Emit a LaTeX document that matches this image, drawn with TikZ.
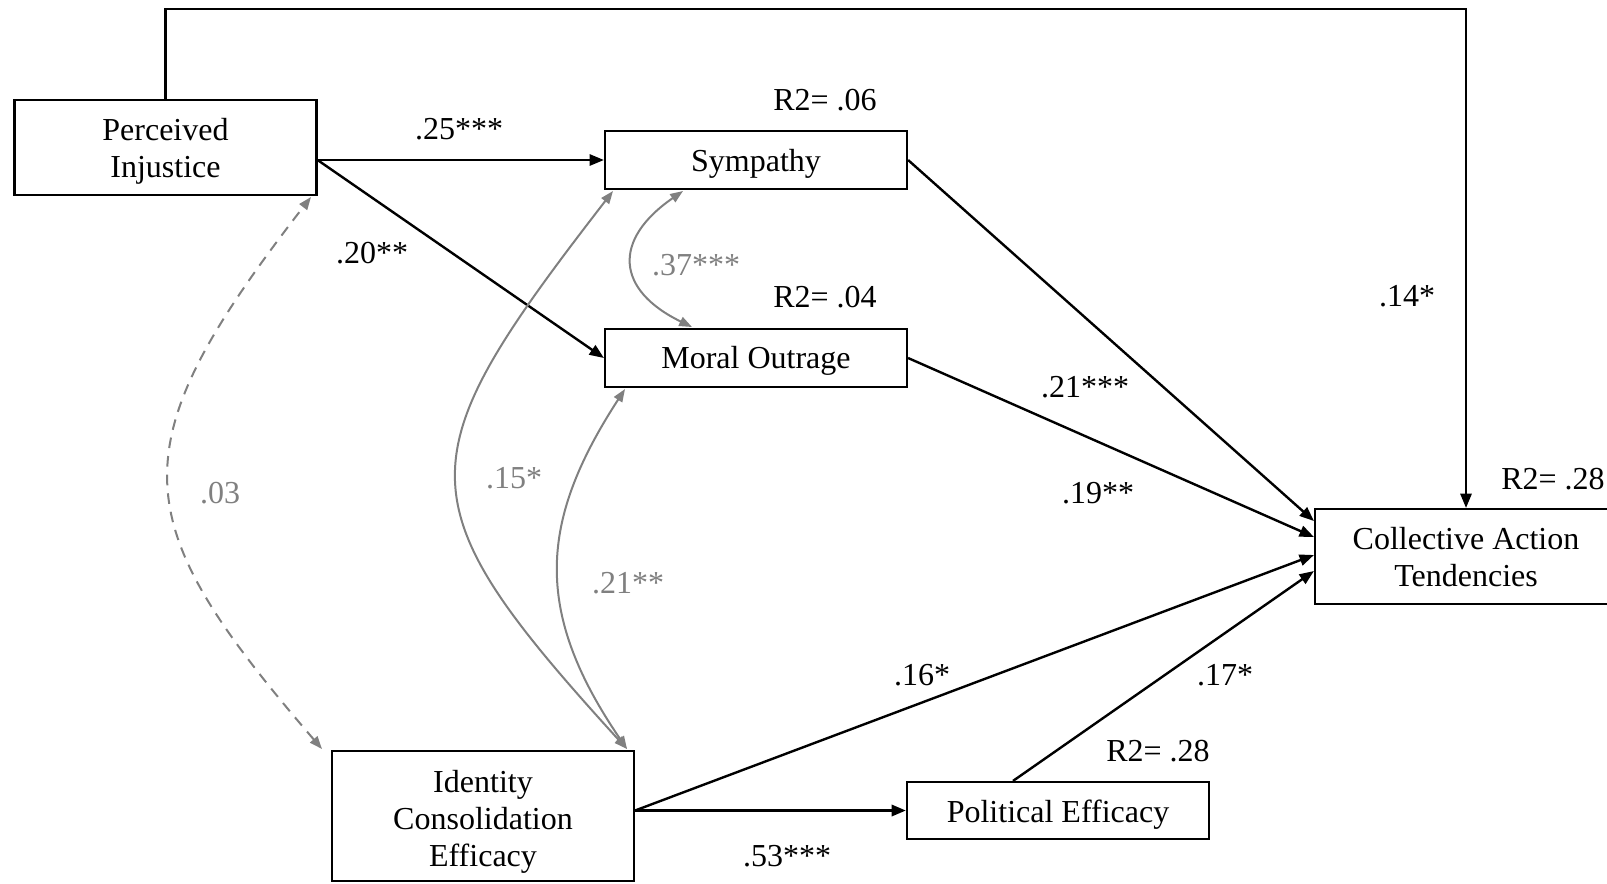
\documentclass[tikz,border=0pt]{standalone}
\usepackage{fontspec}
\setmainfont{Liberation Serif}
\usetikzlibrary{arrows.meta,calc}
\definecolor{cgray}{RGB}{128,128,128}
\newcommand{\lowr}[1]{\rule{0pt}{#1}}
\begin{document}
\begin{tikzpicture}[x=0.375pt,y=-0.375pt,
  every node/.style={font=\fontsize{12}{13.8}\selectfont},
  box/.style={draw, line width=0.8pt, inner sep=0pt, minimum width=113.25pt, align=center},
  lbl/.style={inner sep=0pt},
  glbl/.style={inner sep=0pt, text=cgray},
  blk/.style={line width=0.9pt, -{Triangle[length=5.4pt,width=4.2pt]}},
  gry/.style={draw=cgray, line width=0.75pt, {Triangle[length=4.8pt,width=3.6pt]}-{Triangle[length=4.8pt,width=3.6pt]}},
  gdash/.style={gry, dashed, dash pattern=on 4pt off 3pt}
]
\useasboundingbox (0,0) rectangle (1607,883);

% boxes
\node[box, minimum height=35.6pt] (PI) at (165.5,147.5) {\lowr{11.3pt}Perceived\\Injustice};
\node[box, minimum height=21.75pt] (S) at (756,160) {\lowr{11.2pt}Sympathy};
\node[box, minimum height=21.75pt] (M) at (756,358) {\lowr{10.5pt}Moral Outrage};
\node[box, minimum height=35.6pt] (C) at (1466,556.5) {\lowr{9pt}Collective Action\\Tendencies};
\node[box, minimum height=48.75pt] (I) at (483,816) {\lowr{12.8pt}Identity\\Consolidation\\Efficacy};
\node[box, minimum height=21.4pt] (P) at (1058,810.5) {\lowr{11.3pt}Political Efficacy};

% helper coordinates
\coordinate (PIo) at (S.west -| PI.east);
\coordinate (top1) at (165.5,9);
\coordinate (top2) at (1466,9);
\coordinate (Io) at (P.west -| I.east);

% black paths
\draw[blk] (PIo) -- (S.west);
\draw[blk] (PIo) -- (M.west);
\draw[blk] (PI.north) -- (top1) -- (top2) -- (C.north);
\draw[blk] (S.east) -- ([yshift=35.5*0.375pt]C.west);
\draw[blk] (M.east) -- ([yshift=19.5*0.375pt]C.west);
\draw[blk] (Io) -- ([yshift=1.5*0.375pt]C.west);
\draw[blk] ([xshift=-45*0.375pt]P.north) -- ([yshift=-14.5*0.375pt]C.west);
\draw[blk, line width=1.1pt] (Io) -- (P.west);

% gray correlations
\coordinate (Itr) at (627,749);
\coordinate (Itl) at (322,749);
\coordinate (Sbl) at (613,191);
\coordinate (Sbm) at (683,191);
\coordinate (Mtm) at (692,327);
\coordinate (Mbm) at (625,389);
\coordinate (PIbr) at (311,197);
\draw[gry] (Itr) .. controls (400,500) and (405,460) .. (Sbl);
\draw[gry] (Itr) .. controls (532,610) and (540,520) .. (Mbm);
\draw[gry] (Sbm) .. controls (612,240) and (616,290) .. (Mtm);
\draw[gdash] (Itl) .. controls (125,520) and (115,450) .. (PIbr);

% labels
\node[lbl] (l25) at (459,129) {.25***};
\node[lbl] (l20) at (372,253) {.20**};
\node[glbl] (l37) at (696,265) {.37***};
\node[lbl] (r06) at (825,100) {R2= .06};
\node[lbl] (r04) at (825,297) {R2= .04};
\node[lbl] (l14) at (1407,296) {.14*};
\node[lbl] (l21a) at (1085,387) {.21***};
\node[lbl] (l19) at (1098,493) {.19**};
\node[lbl] (r28a) at (1553,479) {R2= .28};
\node[glbl] (l03) at (220,493) {.03};
\node[glbl] (l15) at (514,478) {.15*};
\node[glbl] (l21b) at (628,583) {.21**};
\node[lbl] (l16) at (922,675) {.16*};
\node[lbl] (l17) at (1225,675) {.17*};
\node[lbl] (r28b) at (1158,751) {R2= .28};
\node[lbl] (l53) at (787,856) {.53***};
\end{tikzpicture}
\end{document}
